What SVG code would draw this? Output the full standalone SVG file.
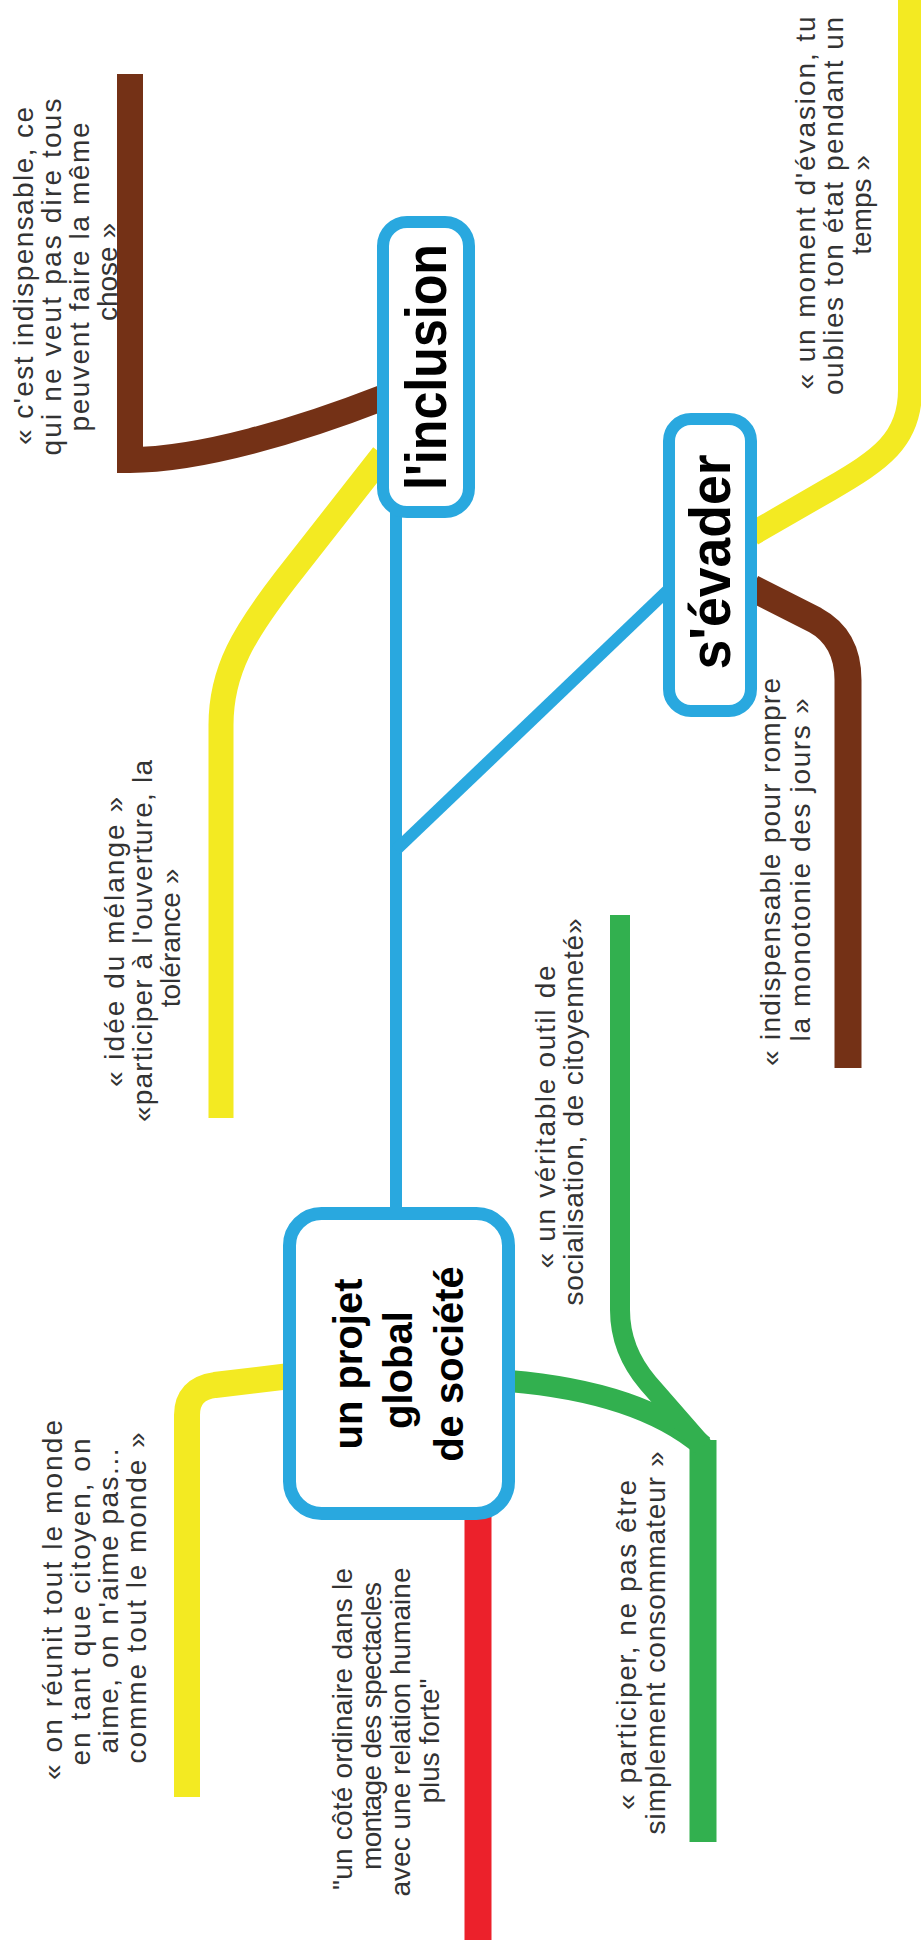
<svg xmlns="http://www.w3.org/2000/svg" width="921" height="1944" viewBox="0 0 921 1944">
<style>
.c{fill:none;stroke-linecap:butt;stroke-linejoin:miter}
.bl{stroke:#29a8df;stroke-width:12}
.ye{stroke:#f3ea22}
.br{stroke:#743116}
.gr{stroke:#32b04f}
.rd{stroke:#ec212b}
.box{fill:#fff;stroke:#29a8df}
.t{font-family:"Liberation Sans",Arial,sans-serif;font-size:28px;fill:#333;text-anchor:middle}
.h{font-family:"Liberation Sans",Arial,sans-serif;font-weight:bold;fill:#000;text-anchor:middle}
</style>
<rect width="921" height="1944" fill="#fff"/>
<g id="connectors">
<path class="c br" stroke-width="26" d="M130 74 L130 460 C200 460 300 430 382 398"/>
<path class="c ye" stroke-width="25" d="M383 455 L285 580 C245 632 221 670 221 725 L221 1118"/>
<path class="c ye" stroke-width="24" d="M752 534 L830 489 C880 460 910 440 910 390 L910 0"/>
<path class="c br" stroke-width="27" d="M752 588 L815 620 Q848 638 848 680 L848 1068"/>
<path class="c bl" d="M396 512 L396 1212"/>
<path class="c bl" d="M396 850 L668 590"/>
<path class="c ye" stroke-width="26" d="M290 1376 L215 1385 Q187 1389 187 1415 L187 1797"/>
<path class="c rd" stroke-width="27" d="M478 1515 L478 1940"/>
<path class="c gr" stroke-width="27" d="M703 1440 L703 1842"/>
<path class="c gr" stroke-width="22" d="M509 1381 Q640 1392 703 1446"/>
<path class="c gr" stroke-width="20" d="M703 1446 L648 1383 Q620 1350 620 1310 L620 915"/>
</g>
<g id="node-inclusion">
<rect class="box" x="383" y="222" width="86" height="290" rx="24" stroke-width="12"/>
<text class="h" font-size="58" textLength="246" lengthAdjust="spacingAndGlyphs" transform="translate(446,367) rotate(-90)">l'inclusion</text>
</g>
<g id="node-sevader">
<rect class="box" x="669" y="419" width="82" height="292" rx="22" stroke-width="12"/>
<text class="h" font-size="57" textLength="215" lengthAdjust="spacingAndGlyphs" transform="translate(730,562) rotate(-90)">s'évader</text>
</g>
<g id="node-projet">
<rect class="box" x="289.5" y="1213.5" width="219" height="300" rx="32" stroke-width="13"/>
<g transform="translate(0,1366) rotate(-90)" class="h" font-size="40">
<text x="2" y="362">un projet</text>
<text x="-4" y="412">global</text>
<text x="2" y="463">de société</text>
</g>
</g>
<g id="label-chose">
<g transform="translate(0,276) rotate(-90)">
<text class="t" x="0" y="33" textLength="338">« c'est indispensable, ce</text>
<text class="t" x="-1" y="61" textLength="357">qui ne veut pas dire tous</text>
<text class="t" x="-1" y="89" textLength="309">peuvent faire la même</text>
<text class="t" x="4" y="117">chose »</text>
</g>
</g>
<g id="label-evasion">
<g transform="translate(0,205) rotate(-90)">
<text class="t" x="2" y="815" textLength="373">« un moment d'évasion, tu</text>
<text class="t" x="-1" y="843" textLength="378">oublies ton état pendant un</text>
<text class="t" x="0" y="871">temps »</text>
</g>
</g>
<g id="label-melange">
<g transform="translate(0,940) rotate(-90)">
<text class="t" x="-2" y="124" textLength="290">« idée du mélange »</text>
<text class="t" x="-1" y="152" textLength="362">«participer à l'ouverture, la</text>
<text class="t" x="2" y="180">tolérance »</text>
</g>
</g>
<g id="label-monotonie">
<g transform="translate(0,871) rotate(-90)">
<text class="t" x="-1" y="780" textLength="388">« indispensable pour rompre</text>
<text class="t" x="1" y="810" textLength="343">la monotonie des jours »</text>
</g>
</g>
<g id="label-citoyennete">
<g transform="translate(0,1114) rotate(-90)">
<text class="t" x="-3" y="555" textLength="303">« un véritable outil de</text>
<text class="t" x="2" y="583" textLength="387">socialisation, de citoyenneté»</text>
</g>
</g>
<g id="label-monde">
<g transform="translate(0,1600) rotate(-90)">
<text class="t" x="0" y="62" textLength="360">« on réunit tout le monde</text>
<text class="t" x="-2" y="90" textLength="327">en tant que citoyen, on</text>
<text class="t" x="-1" y="118" textLength="305">aime, on n'aime pas...</text>
<text class="t" x="2" y="146" textLength="331">comme tout le monde »</text>
</g>
</g>
<g id="label-ordinaire">
<g transform="translate(0,1730) rotate(-90)">
<text class="t" x="1" y="352" textLength="322">"un côté ordinaire dans le</text>
<text class="t" x="4" y="381" textLength="288">montage des spectacles</text>
<text class="t" x="-2" y="410" textLength="329">avec une relation humaine</text>
<text class="t" x="-11" y="439">plus forte"</text>
</g>
</g>
<g id="label-consommateur">
<g transform="translate(0,1644) rotate(-90)">
<text class="t" x="-1" y="636" textLength="330">« participer, ne pas être</text>
<text class="t" x="1" y="665" textLength="383">simplement consommateur »</text>
</g>
</g>
</svg>
